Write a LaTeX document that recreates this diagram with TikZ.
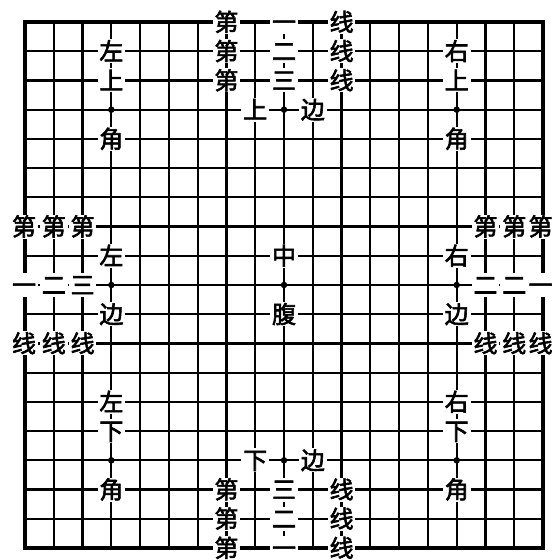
\documentclass[tikz,border=0pt]{standalone}
\usepackage{fontspec}
\newfontfamily\cjk{Noto Sans CJK SC}[FakeBold=2.5]
\tikzset{
  gridline/.style={line width=2.2pt, black},
  border/.style={line width=4pt, black, line cap=rect},
  lbl/.style={fill=white, inner xsep=1.8pt, inner ysep=1pt, font=\cjk\fontsize{24}{24}\selectfont, text height=20pt, text depth=2pt},
  star/.style={circle, fill=black, inner sep=0pt, minimum size=6.5pt}
}
\begin{document}
\begin{tikzpicture}[x=28.78pt,y=-29.22pt]
\useasboundingbox[fill=white] (-25pt,22pt) rectangle (529pt,-538pt);
% grid
\foreach \i in {1,...,17} {
  \draw[gridline] (0,\i) -- (18,\i);
  \draw[gridline] (\i,0) -- (\i,18);
}
\draw[border] (0,0) rectangle (18,18);
% star points
\foreach \a in {3,9,15} \foreach \b in {3,9,15} \node[star] (s\a\b) at (\a,\b) {};
% top labels
\node[lbl] (t1) at (7,0) {第};
\node[lbl] (t2) at (7,1) {第};
\node[lbl] (t3) at (7,2) {第};
\node[lbl] (t4) at (9,0) {一};
\node[lbl] (t5) at (9,1) {二};
\node[lbl] (t6) at (9,2) {三};
\node[lbl] (t7) at (11,0) {线};
\node[lbl] (t8) at (11,1) {线};
\node[lbl] (t9) at (11,2) {线};
\node[lbl] (t10) at (8,3) {上};
\node[lbl] (t11) at (10,3) {边};
% bottom labels
\node[lbl] (b1) at (7,16) {第};
\node[lbl] (b2) at (7,17) {第};
\node[lbl] (b3) at (7,18) {第};
\node[lbl] (b4) at (9,16) {三};
\node[lbl] (b5) at (9,17) {二};
\node[lbl] (b6) at (9,18) {一};
\node[lbl] (b7) at (11,16) {线};
\node[lbl] (b8) at (11,17) {线};
\node[lbl] (b9) at (11,18) {线};
\node[lbl] (b10) at (8,15) {下};
\node[lbl] (b11) at (10,15) {边};
% left labels
\node[lbl] (l1) at ([xshift=-1pt]0,7) {第};
\node[lbl] (l2) at (1,7) {第};
\node[lbl] (l3) at (2,7) {第};
\node[lbl] (l4) at ([xshift=-1pt]0,9) {一};
\node[lbl] (l5) at (1,9) {二};
\node[lbl] (l6) at (2,9) {三};
\node[lbl] (l7) at ([xshift=-1pt]0,11) {线};
\node[lbl] (l8) at (1,11) {线};
\node[lbl] (l9) at (2,11) {线};
\node[lbl] (l10) at (3,8) {左};
\node[lbl] (l11) at (3,10) {边};
% right labels
\node[lbl] (r1) at (16,7) {第};
\node[lbl] (r2) at (17,7) {第};
\node[lbl] (r3) at ([xshift=-2.5pt]18,7) {第};
\node[lbl] (r4) at (16,9) {二};
\node[lbl] (r5) at (17,9) {二};
\node[lbl] (r6) at ([xshift=-2.5pt]18,9) {一};
\node[lbl] (r7) at (16,11) {线};
\node[lbl] (r8) at (17,11) {线};
\node[lbl] (r9) at ([xshift=-2.5pt]18,11) {线};
\node[lbl] (r10) at (15,8) {右};
\node[lbl] (r11) at (15,10) {边};
% centre
\node[lbl] (c1) at (9,8) {中};
\node[lbl] (c2) at (9,10) {腹};
% corners
\node[lbl] (ul1) at (3,1) {左};
\node[lbl] (ul2) at (3,2) {上};
\node[lbl] (ul3) at (3,4) {角};
\node[lbl] (ur1) at (15,1) {右};
\node[lbl] (ur2) at (15,2) {上};
\node[lbl] (ur3) at (15,4) {角};
\node[lbl] (dl1) at (3,13) {左};
\node[lbl] (dl2) at (3,14) {下};
\node[lbl] (dl3) at (3,16) {角};
\node[lbl] (dr1) at (15,13) {右};
\node[lbl] (dr2) at (15,14) {下};
\node[lbl] (dr3) at (15,16) {角};
\end{tikzpicture}
\end{document}
